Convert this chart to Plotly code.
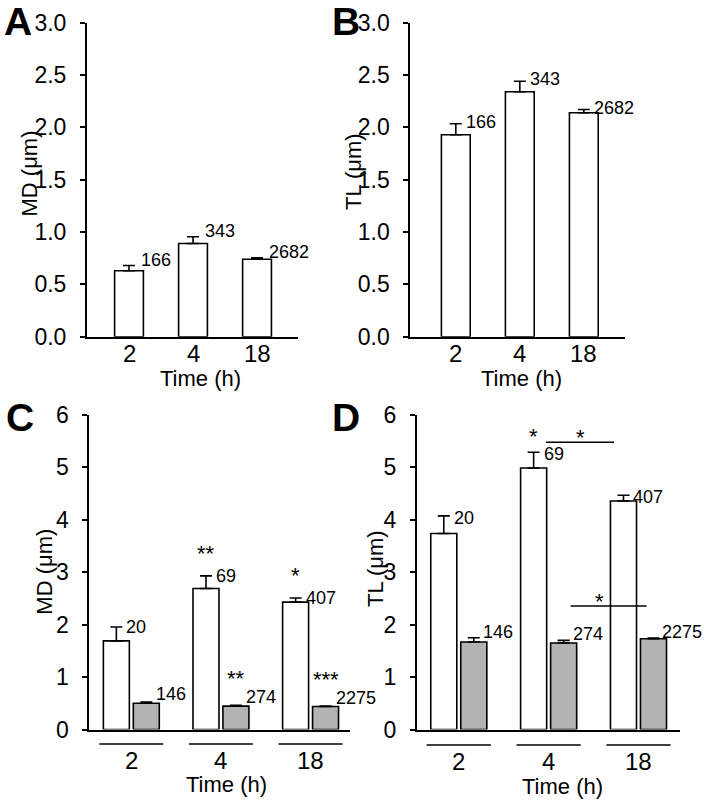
import plotly.graph_objects as go

# ---------------- data ----------------
time_labels = ["2", "4", "18"]

# Panel A: MD (um), single series
a_values = [0.63, 0.89, 0.74]
a_errors = [0.05, 0.065, 0.013]
a_counts = ["166", "343", "2682"]

# Panel B: TL (um), single series
b_values = [1.93, 2.34, 2.14]
b_errors = [0.105, 0.10, 0.03]
b_counts = ["166", "343", "2682"]

# Panel C: MD (um), white and grey series
c_white = [1.69, 2.69, 2.43]
c_white_err = [0.265, 0.24, 0.08]
c_white_n = ["20", "69", "407"]
c_white_sig = ["", "**", "*"]
c_grey = [0.50, 0.445, 0.44]
c_grey_err = [0.022, 0.015, 0.008]
c_grey_n = ["146", "274", "2275"]
c_grey_sig = ["", "**", "***"]

# Panel D: TL (um), white and grey series
d_white = [3.74, 4.99, 4.36]
d_white_err = [0.335, 0.30, 0.11]
d_white_n = ["20", "69", "407"]
d_white_sig = ["", "*", ""]
d_grey = [1.67, 1.65, 1.73]
d_grey_err = [0.08, 0.05, 0.015]
d_grey_n = ["146", "274", "2275"]

FONT = "Liberation Sans, Arial, sans-serif"
GREY = "#b3b3b3"
W, H = 704, 802


def px(x):
    return x / W


def py(y):
    return 1 - y / H


fig = go.Figure()
pos = list(range(len(time_labels)))


def err(arr):
    return dict(type="data", array=arr, arrayminus=[0] * len(arr), symmetric=False,
                color="black", thickness=1.6, width=6, visible=True)


# A and B single bars
for vals, errs, xa, ya in [(a_values, a_errors, "x", "y"), (b_values, b_errors, "x2", "y2")]:
    fig.add_trace(go.Bar(x=pos, y=vals, width=0.45,
                         marker=dict(color="white", line=dict(color="black", width=1.6)),
                         error_y=err(errs), xaxis=xa, yaxis=ya, showlegend=False))

# C and D paired bars
BW = 0.29
for wv, we, gv, ge, ax in [(c_white, c_white_err, c_grey, c_grey_err, "3"),
                           (d_white, d_white_err, d_grey, d_grey_err, "4")]:
    fig.add_trace(go.Bar(x=pos, y=wv, width=BW, offset=-0.167 - BW / 2,
                         marker=dict(color="white", line=dict(color="black", width=1.6)),
                         error_y=err(we), xaxis="x" + ax, yaxis="y" + ax, showlegend=False))
    fig.add_trace(go.Bar(x=pos, y=gv, width=BW, offset=0.167 - BW / 2,
                         marker=dict(color=GREY, line=dict(color="black", width=1.6)),
                         error_y=err(ge), xaxis="x" + ax, yaxis="y" + ax, showlegend=False))

ann = []
shapes = []


def label(xref, yref, x, y, text, xshift=8, yshift=3, size=18):
    ann.append(dict(xref=xref, yref=yref, x=x, y=y, text=text, showarrow=False, xanchor="left",
                    yanchor="middle", xshift=xshift, yshift=yshift,
                    font=dict(size=size, family=FONT, color="black")))


def star(xref, yref, x, y, text, yshift):
    if not text:
        return
    ann.append(dict(xref=xref, yref=yref, x=x, y=y, text=text, showarrow=False, xanchor="center",
                    yanchor="bottom", yshift=yshift, font=dict(size=22, family=FONT, color="black")))


def ticklabel(xref, x, y, t):
    ann.append(dict(xref=xref, yref="paper", x=x, y=py(y), text=t, showarrow=False,
                    xanchor="center", yanchor="middle", font=dict(size=24, family=FONT, color="black")))


for i in pos:
    label("x", "y", i, a_values[i] + a_errors[i], a_counts[i], xshift=10, yshift=6)
    label("x2", "y2", i, b_values[i] + b_errors[i], b_counts[i], yshift=2)
    # C
    label("x3", "y3", i - 0.167, c_white[i] + c_white_err[i], c_white_n[i], yshift=0)
    label("x3", "y3", i + 0.167, c_grey[i] + c_grey_err[i], c_grey_n[i], yshift=8)
    star("x3", "y3", i - 0.167, c_white[i] + c_white_err[i], c_white_sig[i], 8)
    star("x3", "y3", i + 0.167, c_grey[i] + c_grey_err[i], c_grey_sig[i], 12)
    # D
    label("x4", "y4", i - 0.167, d_white[i] + d_white_err[i], d_white_n[i], yshift=-2)
    label("x4", "y4", i + 0.167, d_grey[i] + d_grey_err[i], d_grey_n[i], xshift=7, yshift=6)
    star("x4", "y4", i - 0.167, d_white[i] + d_white_err[i], d_white_sig[i], 1)
    # group underlines
    for xr, yy in [("x3", 744), ("x4", 745)]:
        shapes.append(dict(type="line", xref=xr, yref="paper", x0=i - 0.357, x1=i + 0.357,
                           y0=py(yy), y1=py(yy), line=dict(color="black", width=1.6)))
    # category labels
    ticklabel("x", i, 354, time_labels[i])
    ticklabel("x2", i, 354, time_labels[i])
    ticklabel("x3", i, 760, time_labels[i])
    ticklabel("x4", i, 761, time_labels[i])

# significance lines in D
sig_lines = [(0.97, 1.728, 5.48, 1.352), (1.245, 2.09, 2.355, 1.564)]
for x0, x1, yv, xs in sig_lines:
    shapes.append(dict(type="line", xref="x4", yref="y4", x0=x0, x1=x1, y0=yv, y1=yv,
                       line=dict(color="black", width=1.6), layer="above"))
    star("x4", "y4", xs, yv, "*", -10)


# axis titles and panel letters
def text(x, y, t, size=22, angle=0, bold=False):
    ann.append(dict(xref="paper", yref="paper", x=px(x), y=py(y),
                    text=("<b>%s</b>" % t) if bold else t,
                    showarrow=False, xanchor="center", yanchor="middle", textangle=angle,
                    font=dict(size=size, family=FONT, color="black")))


text(29, 173.5, "MD (μm)", angle=-90)
text(353.3, 171.7, "TL (μm)", angle=-90)
text(45, 571.7, "MD (μm)", angle=-90)
text(375, 569, "TL (μm)", angle=-90)
text(200, 378.3, "Time (h)")
text(521, 378.3, "Time (h)")
text(226.7, 784.5, "Time (h)")
text(562.8, 786.7, "Time (h)")
text(18, 22, "A", size=39, bold=True)
text(346, 22, "B", size=39, bold=True)
text(20, 418, "C", size=39, bold=True)
text(346, 418, "D", size=39, bold=True)

tickfont = dict(size=23, family=FONT, color="black")


def xaxis(domain, rng, anchor):
    return dict(domain=domain, range=rng, anchor=anchor, showline=True, linecolor="black", linewidth=2,
                tickvals=pos, showticklabels=False, ticks="", showgrid=False, zeroline=False,
                fixedrange=True, automargin=False)


def yaxis(domain, rng, dtick, fmt, anchor):
    return dict(domain=domain, range=rng, anchor=anchor, showline=True, linecolor="black", linewidth=2,
                ticks="outside", ticklen=5, tickwidth=2, tickcolor="black", dtick=dtick, tickformat=fmt,
                showgrid=False, zeroline=False, tickfont=tickfont, ticklabelstandoff=9,
                fixedrange=True, automargin=False)


top = [py(336.7), py(22.7)]
bot = [py(729.5), py(415)]

fig.update_layout(
    template="none",
    width=W, height=H, margin=dict(l=0, r=0, t=0, b=0, autoexpand=False),
    paper_bgcolor="white", plot_bgcolor="white", barmode="overlay", showlegend=False,
    xaxis=xaxis([px(87), px(298)], [-0.656, 2.64], "y"),
    yaxis=yaxis(top, [0, 3], 0.5, ".1f", "x"),
    xaxis2=xaxis([px(410.3), px(625.3)], [-0.711, 2.648], "y2"),
    yaxis2=yaxis(top, [0, 3], 0.5, ".1f", "x2"),
    xaxis3=xaxis([px(89.3), px(350)], [-0.469, 2.44], "y3"),
    yaxis3=yaxis(bot, [0, 6], 1, "d", "x3"),
    xaxis4=xaxis([px(417), px(680)], [-0.465, 2.462], "y4"),
    yaxis4=yaxis(bot, [0, 6], 1, "d", "x4"),
    annotations=ann, shapes=shapes,
)

fig.write_html("out.html", config={"displayModeBar": False},
               post_script="document.body.style.margin='0px';")
